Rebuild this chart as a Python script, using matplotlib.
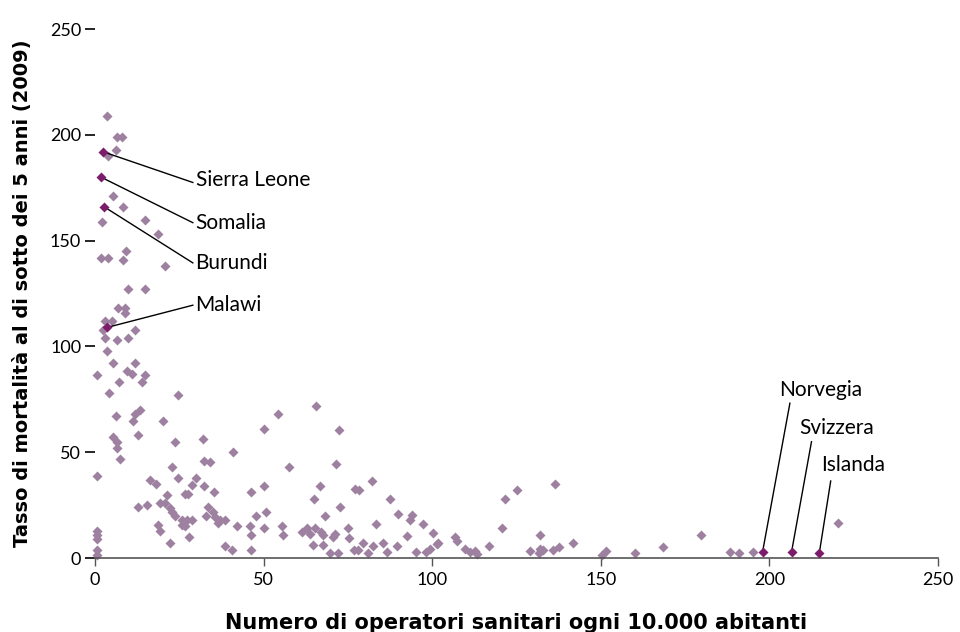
import matplotlib
matplotlib.use("Agg")
import matplotlib.pyplot as plt

# operatori sanitari ogni 10.000 abitanti / mortalita sotto i 5 anni (2009)
operatori = [
    3.6, 6.5, 8.0, 6.2, 3.9, 5.3, 8.3, 2.0, 14.8, 18.6, 1.8, 3.9, 9.1, 8.4, 20.8,
    9.7, 14.8, 6.9, 8.9, 8.9, 3.0, 5.0, 2.5, 11.9, 3.0, 6.6, 9.7, 3.6, 5.4, 11.9,
    0.5, 9.4, 10.9, 14.8, 7.2, 14.0, 4.2, 24.7, 6.2, 11.9, 13.3, 11.4, 20.3, 5.4,
    6.6, 12.8, 23.7, 32.1, 6.4, 7.4, 0.5, 22.7, 24.5, 16.3, 18.0, 30.0, 28.7, 21.3,
    26.7, 27.7, 12.8, 15.3, 19.3, 20.8, 22.2, 22.9, 23.7, 25.7, 27.2, 28.7, 25.7,
    26.7, 18.8, 19.3, 27.9, 22.2, 0.5, 0.5, 0.5, 0.5, 0.5, 33.0, 32.2, 65.5, 54.2,
    50.2, 72.4, 41.0, 34.1, 57.5, 71.5, 32.4, 35.4, 50.1, 46.2, 66.8, 64.9, 77.0,
    78.2, 33.6, 35.1, 35.6, 37.1, 38.6, 36.6, 72.7, 47.7, 50.7, 68.2, 42.0, 46.0,
    46.3, 50.2, 55.5, 55.8, 61.3, 62.8, 63.8, 65.2, 67.0, 67.7, 71.2, 70.7, 75.1,
    75.3, 64.7, 67.7, 38.6, 40.5, 46.3, 69.7, 72.0, 76.9, 82.1, 87.5, 89.9, 93.9,
    93.4, 83.3, 97.4, 100.3, 92.4, 106.8, 107.4, 79.6, 78.1, 81.0, 82.5, 85.5,
    86.5, 89.5, 95.2, 98.2, 99.3, 101.3, 101.8, 109.7, 111.2, 112.7, 113.2, 116.9,
    120.6, 121.6, 125.1, 136.4, 132.0, 129.0, 132.0, 133.0, 135.9, 137.7, 131.8,
    141.8, 150.3, 151.7, 160.1, 168.5, 179.7, 188.3, 191.0, 195.2, 220.5,
]
mortalita = [
    209, 199, 199, 193, 190, 171, 166, 159, 160, 153, 142, 142, 145, 141, 138,
    127, 127, 118, 118, 116, 112, 112, 108, 108, 104, 103, 104, 98, 92, 92,
    86.5, 88.5, 87, 86.5, 83, 83, 78, 77, 67, 68, 70, 65, 65, 57,
    55, 58, 55, 56.5, 52, 47, 39, 43, 38, 37, 35, 38, 34.5, 30,
    30.5, 30.5, 24, 25, 26, 26, 23.5, 22, 20, 18, 18, 18, 15.5,
    15, 15.5, 13, 10, 7, 13, 11, 9, 4, 1.5, 20, 46, 72, 68,
    61, 60.5, 50, 45.5, 43, 44.5, 34, 31, 34, 31, 34, 28, 32.5,
    32.3, 24, 22, 19.5, 18, 18, 16.5, 24, 20, 22, 20, 15, 15,
    11, 14, 15, 11, 12.5, 14, 11.5, 14, 12.5, 11, 11.5, 10, 14,
    9.5, 6, 6, 5.5, 4, 4, 2.5, 2.5, 4, 36.5, 28, 21, 20.5,
    18, 16, 16, 12, 10.5, 10, 8, 7, 4, 2.5, 5.5, 7,
    3, 5.5, 3, 3, 4.5, 6.5, 7, 4.5, 3, 3.5, 2, 5.5,
    14, 28, 32, 35, 11, 3.5, 4.5, 4, 4, 5, 2.5,
    7, 1.5, 3.5, 2.5, 5, 11, 3, 2.5, 3, 16.4,
]

paesi = ["Sierra Leone", "Somalia", "Burundi", "Malawi", "Norvegia", "Svizzera", "Islanda"]
paesi_x = [2.4, 1.8, 2.7, 3.6, 198.0, 206.6, 214.8]
paesi_y = [192, 180, 166, 109, 3, 3, 2.2]
# posizione delle etichette (x, y) e fine della linea
etich_xy = [(29.8, 178.6), (29.8, 158.3), (29.8, 139.3), (29.8, 119.4),
            (203.0, 79.4), (209.0, 61.3), (215.5, 44.0)]
linea_xy = [(29.0, 177.5), (29.0, 158.5), (29.0, 139.5), (29.0, 119.5),
            (206.1, 73.2), (212.5, 55.0), (218.2, 36.4)]

chiaro = "#9e80a0"
scuro = "#7b1d6b"

plt.rcParams["font.family"] = ["Lato", "DejaVu Sans"]

fig = plt.figure(figsize=(9.6, 6.32), dpi=100)
ax = fig.add_axes([0.099, 0.117, 0.878, 0.837])

ax.scatter(operatori, mortalita, marker="D", s=26, color=chiaro,
           linewidths=0, clip_on=False, zorder=2)
ax.scatter(paesi_x, paesi_y, marker="D", s=26, color=scuro,
           linewidths=0, clip_on=False, zorder=3)

for i, nome in enumerate(paesi):
    lx, ly = linea_xy[i]
    ax.plot([paesi_x[i], lx], [paesi_y[i], ly], color="black", lw=1.0,
            zorder=2.5, clip_on=False)
    tx, ty = etich_xy[i]
    ax.text(tx, ty, nome, fontsize=15, ha="left", va="center")

ax.set_xlim(0, 250)
ax.set_ylim(0, 250)
ax.set_xticks([0, 50, 100, 150, 200, 250])
ax.set_yticks([0, 50, 100, 150, 200, 250])

for s in ["top", "right", "left"]:
    ax.spines[s].set_visible(False)
ax.spines["bottom"].set_color("#555555")
ax.spines["bottom"].set_linewidth(1.2)

ax.tick_params(axis="y", length=7, width=1.2, direction="out", labelsize=13, pad=3)
ax.tick_params(axis="x", length=6, width=1.0, direction="out", labelsize=13, pad=4,
               color="#555555")

ax.set_xlabel("Numero di operatori sanitari ogni 10.000 abitanti",
              fontsize=15, fontweight="bold", family="DejaVu Sans", labelpad=18)
ax.set_ylabel("Tasso di mortalità al di sotto dei 5 anni (2009)",
              fontsize=14, fontweight="bold", family="DejaVu Sans", labelpad=13)

fig.savefig("out.png", dpi=100)
